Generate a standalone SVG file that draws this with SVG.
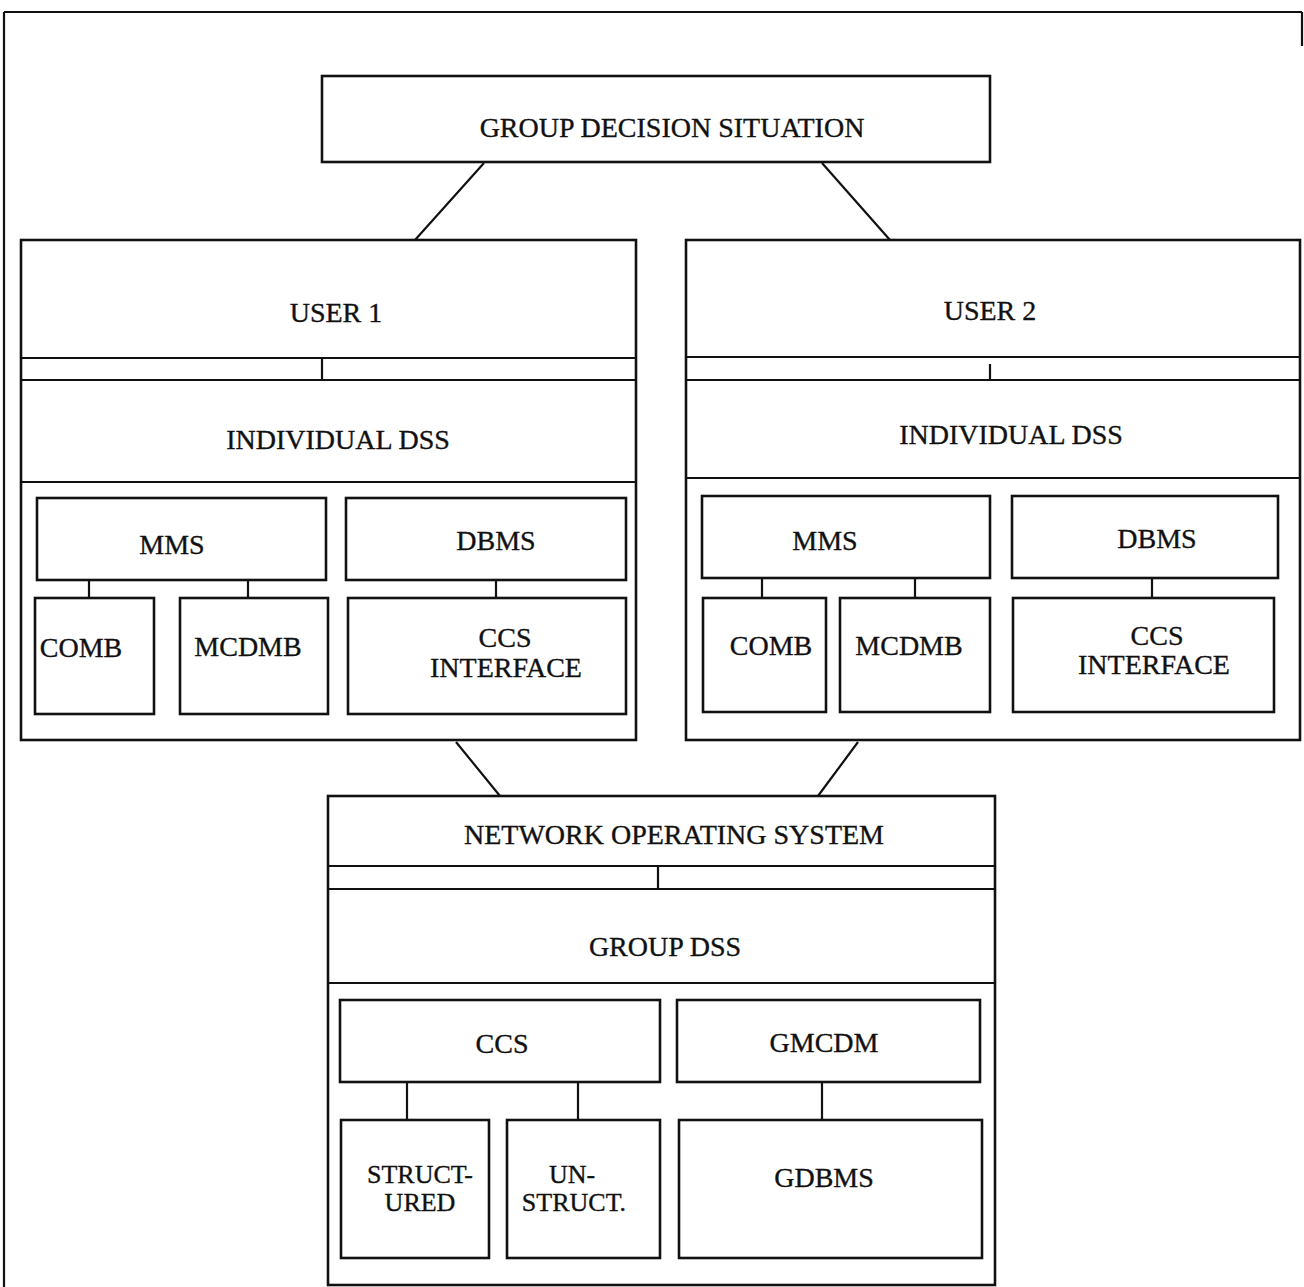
<svg xmlns="http://www.w3.org/2000/svg" width="1304" height="1287" viewBox="0 0 1304 1287">
<style>
.box{fill:none;stroke:#111;stroke-width:2.6}
.ln{fill:none;stroke:#111;stroke-width:2.2}
.t{font-family:"Liberation Serif","Times New Roman",serif;font-size:28px;fill:#111;stroke:#111;stroke-width:0.35;text-anchor:middle}
.s{font-size:26px}
</style>
<rect x="0" y="0" width="1304" height="1287" fill="#fff"/>
<g id="frame">
<path class="ln" d="M4 12 H1302 M4 12 V1287 M1302 12 V46"/>
</g>
<g id="group-decision-situation">
<rect class="box" x="322" y="76" width="668" height="86"/>
<text class="t" x="672" y="137">GROUP DECISION SITUATION</text>
</g>
<g id="user1-dss">
<rect class="box" x="21" y="240" width="615" height="500"/>
<path class="ln" d="M21 358 H636 M21 380 H636 M322 358 V380 M21 482 H636"/>
<text class="t" x="336" y="322">USER 1</text>
<text class="t" x="338" y="449">INDIVIDUAL DSS</text>
</g>
<g id="u1-mms"><rect class="box" x="37" y="498" width="289" height="82"/><text class="t" x="172" y="554">MMS</text></g>
<g id="u1-dbms"><rect class="box" x="346" y="498" width="280" height="82"/><text class="t" x="496" y="550">DBMS</text></g>
<g id="u1-comb"><rect class="box" x="35" y="598" width="119" height="116"/><text class="t" x="81" y="657">COMB</text></g>
<g id="u1-mcdmb"><rect class="box" x="180" y="598" width="148" height="116"/><text class="t" x="248" y="656">MCDMB</text></g>
<g id="u1-ccs-interface"><rect class="box" x="348" y="598" width="278" height="116"/><text class="t" x="505" y="647">CCS</text><text class="t" x="506" y="677">INTERFACE</text></g>
<g id="user2-dss">
<rect class="box" x="686" y="240" width="614" height="500"/>
<path class="ln" d="M686 357 H1300 M686 380 H1300 M990 364 V380 M686 478 H1300"/>
<text class="t" x="990" y="320">USER 2</text>
<text class="t" x="1011" y="444">INDIVIDUAL DSS</text>
</g>
<g id="u2-mms"><rect class="box" x="702" y="496" width="288" height="82"/><text class="t" x="825" y="550">MMS</text></g>
<g id="u2-dbms"><rect class="box" x="1012" y="496" width="266" height="82"/><text class="t" x="1157" y="548">DBMS</text></g>
<g id="u2-comb"><rect class="box" x="703" y="598" width="123" height="114"/><text class="t" x="771" y="655">COMB</text></g>
<g id="u2-mcdmb"><rect class="box" x="840" y="598" width="150" height="114"/><text class="t" x="909" y="655">MCDMB</text></g>
<g id="u2-ccs-interface"><rect class="box" x="1013" y="598" width="261" height="114"/><text class="t" x="1157" y="645">CCS</text><text class="t" x="1154" y="674">INTERFACE</text></g>
<g id="network-group-dss">
<rect class="box" x="328" y="796" width="667" height="489"/>
<path class="ln" d="M328 866 H995 M328 889 H995 M658 866 V889 M328 983 H995"/>
<text class="t" x="674" y="844">NETWORK OPERATING SYSTEM</text>
<text class="t" x="665" y="956">GROUP DSS</text>
</g>
<g id="g-ccs"><rect class="box" x="340" y="1000" width="320" height="82"/><text class="t" x="502" y="1053">CCS</text></g>
<g id="g-gmcdm"><rect class="box" x="677" y="1000" width="303" height="82"/><text class="t" x="824" y="1052">GMCDM</text></g>
<g id="g-structured"><rect class="box" x="341" y="1120" width="148" height="138"/><text class="t s" x="420" y="1183">STRUCT-</text><text class="t s" x="420" y="1211">URED</text></g>
<g id="g-unstruct"><rect class="box" x="507" y="1120" width="153" height="138"/><text class="t s" x="572" y="1183">UN-</text><text class="t s" x="574" y="1211">STRUCT.</text></g>
<g id="g-gdbms"><rect class="box" x="679" y="1120" width="303" height="138"/><text class="t" x="824" y="1187">GDBMS</text></g>
<g id="connectors">
<path class="ln" d="M484 163 L415 240 M822 163 L890 240"/>
<path class="ln" d="M89 580 V598 M248 580 V598 M496 580 V598"/>
<path class="ln" d="M762 578 V598 M915 578 V598 M1152 578 V598"/>
<path class="ln" d="M456 742 L500 796 M858 742 L818 796"/>
<path class="ln" d="M407 1082 V1120 M578 1082 V1120 M822 1082 V1120"/>
</g>
</svg>
